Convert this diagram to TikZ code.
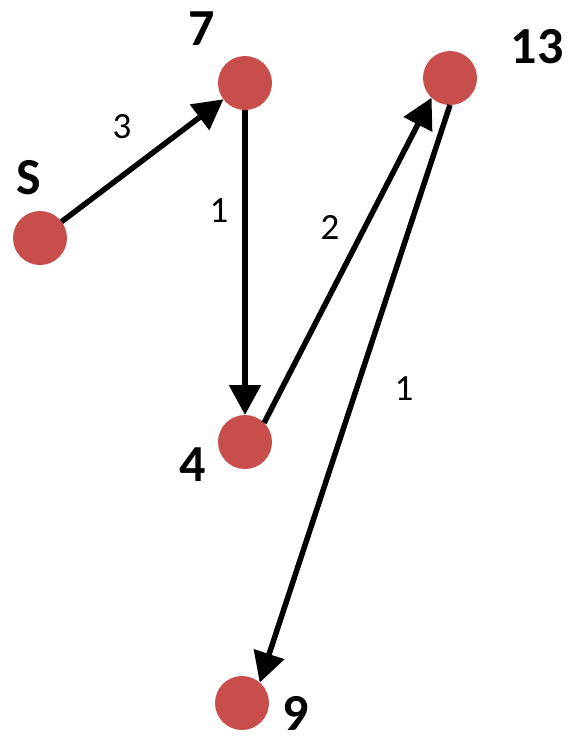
\documentclass[tikz,border=0pt]{standalone}
\usepackage{fontspec}
\setmainfont[Numbers=Lining]{Carlito}
\usetikzlibrary{arrows.meta}
\definecolor{knotenrot}{RGB}{200, 78, 76}

\begin{document}
\begin{tikzpicture}[x=1pt, y=-1pt, >={Triangle[length=30pt, width=31pt]},
	knoten/.style={circle, fill=knotenrot, minimum size=54pt, inner sep=0pt, outer sep=0pt},
	knotenname/.style={inner sep=0pt, font=\fontsize{52}{52}\selectfont\bfseries},
	gewicht/.style={inner sep=0pt, font=\fontsize{37}{37}\selectfont},
	kante/.style={->, line width=5.5pt}]
				%Bildbereich
				\useasboundingbox (0,0) rectangle (573,745);
				% Knoten zeichnen
				\node[knoten] (nS)  at (40,238)  {};
				\node[knoten] (n7)  at (245,83)  {};
				\node[knoten] (n13) at (450,78)  {};
				\node[knoten] (n4)  at (245,442) {};
				\node[knoten] (n9)  at (242,703) {};
				% Knoten beschriften
				\node[knotenname] (lS)  at (29,178)  {S};
				\node[knotenname] (l7)  at (202,29)  {7};
				\node[knotenname] (l13) at (537,47)  {13};
				\node[knotenname] (l4)  at (193,465) {4};
				\node[knotenname, anchor=base] (l9) at (296,730) {9};
				% Kanten zeichnen
				\draw[kante] (nS) -- (n7);
				\draw[kante] (n7) -- (n4);
				\draw[kante] (n4.45) -- (n13.227);
				\draw[kante] (n13.270) -- (n9.49);
				% Kanten beschriften
				\node[gewicht] (g1) at (122,127) {3};
				\node[gewicht] (g2) at (219,211) {1};
				\node[gewicht] (g3) at (330,227) {2};
				\node[gewicht] (g4) at (404,389) {1};
			\end{tikzpicture}
\end{document}
